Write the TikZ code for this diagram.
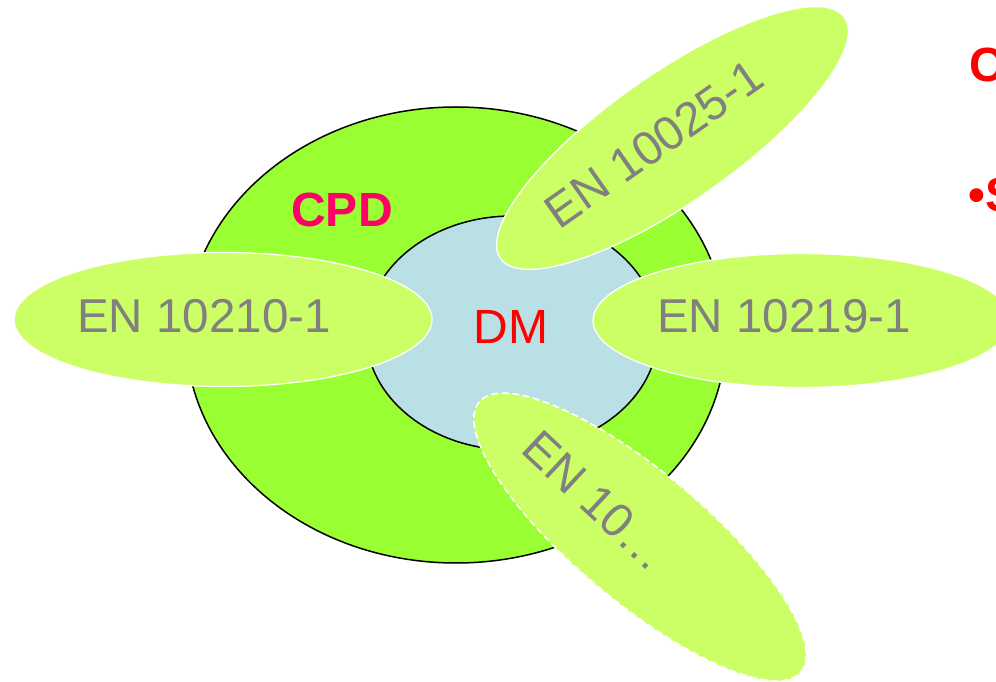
\documentclass[tikz,border=0pt]{standalone}
\usepackage{fontspec}
\setmainfont{Liberation Sans}
\usetikzlibrary{shapes.geometric}
\definecolor{cpdgreen}{HTML}{99FF33}
\definecolor{dmblue}{HTML}{B9E0E4}
\definecolor{petal}{HTML}{CCFF66}
\definecolor{labelgray}{HTML}{808080}
\definecolor{cpdpink}{HTML}{FF0066}
\definecolor{red0}{HTML}{FF0000}
\tikzset{
  ring/.style={ellipse, draw=black, line width=1.5pt, inner sep=0pt},
  petalshape/.style={ellipse, fill=petal, draw=white, line width=1.3pt, inner sep=0pt,
    minimum width=418pt, minimum height=134pt},
  petaltext/.style={text=labelgray, font=\fontsize{47.5}{56}\selectfont, inner sep=0pt},
  redtext/.style={text=red0, font=\fontsize{48}{56}\selectfont, inner sep=0pt},
}
\begin{document}
\begin{tikzpicture}[x=1pt,y=1pt]
\useasboundingbox (0,0) rectangle (996,681);
% outer and inner ellipses
\node[ring, fill=cpdgreen, minimum width=540pt, minimum height=456pt] (cpd) at (456,346) {};
\node[ring, fill=dmblue, minimum width=292pt, minimum height=234pt] (dm) at (512,348) {};
% petals
\node[petalshape] (pleft) at (223,361.5) {};
\node[petalshape] (pright) at (802,360.5) {};
\node[petalshape, minimum width=420pt, minimum height=128pt, rotate=35] (ptop) at (672.5,543) {};
\node[petalshape, dashed, dash pattern=on 7pt off 3.5pt, line width=1.6pt, minimum width=420pt, minimum height=130pt, rotate=-40] (pbot) at (640,144) {};
% texts
\node[petaltext, anchor=base] (tleft) at (204,348) {EN 10210-1};
\node[petaltext, anchor=base] (tright) at (784,348) {EN 10219-1};
\node[petaltext, rotate=35] (ttop) at (654,537) {EN 10025-1};
\node[petaltext, rotate=-43] (tbot) at (596,180) {EN 10…};
\node[text=cpdpink, font=\fontsize{48}{56}\selectfont\bfseries, inner sep=0pt, anchor=base] (tcpd) at (342,454) {CPD};
\node[redtext, anchor=base] (tdm) at (511,337) {DM};
% cut-off text at the right edge
\node[redtext, font=\fontsize{48}{56}\selectfont\bfseries, anchor=base west] (tc) at (969,599) {C};
\node[redtext, font=\fontsize{48}{56}\selectfont\bfseries, anchor=base west] (ts) at (968,469) {•S};
\end{tikzpicture}
\end{document}
